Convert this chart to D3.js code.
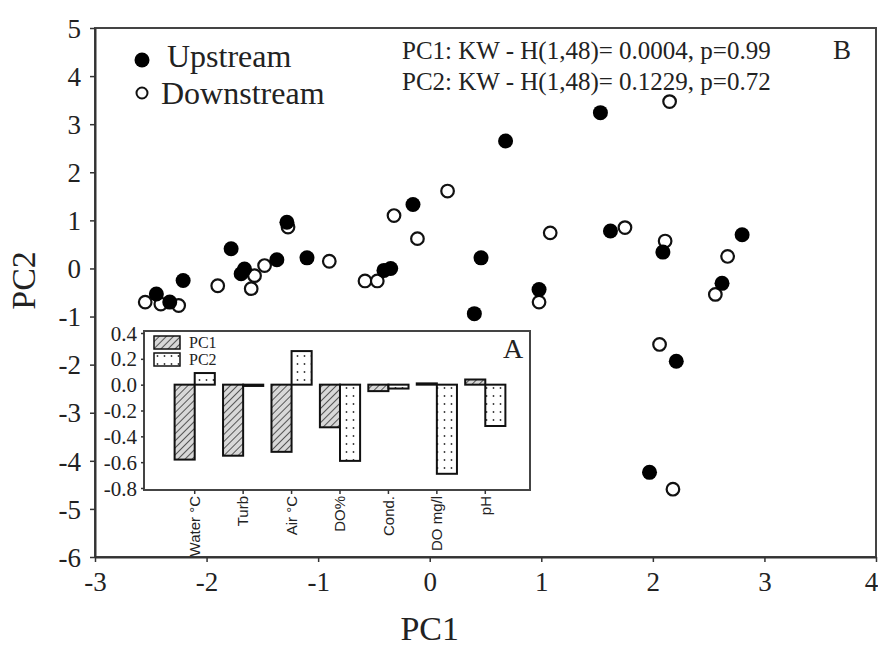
<!DOCTYPE html>
<html>
<head>
<meta charset="utf-8">
<script src="https://cdn.jsdelivr.net/npm/d3@7"></script>
<style>
  body { margin: 0; background: #fff; }
  svg { display: block; }
</style>
</head>
<body>
<div id="chart"></div>
<script>
// Scores
const upstreamPC1 = [-2.45, -2.33, -2.21, -1.78, -1.66, -1.69, -1.37, -1.28, -1.10, -0.41, -0.35, -0.15, 0.40, 0.46, 0.68, 0.98, 1.53, 1.62, 1.97, 2.09, 2.21, 2.62, 2.80];
const upstreamPC2 = [-0.53, -0.70, -0.25, 0.41, -0.01, -0.11, 0.18, 0.96, 0.22, -0.04, 0.00, 1.33, -0.94, 0.22, 2.65, -0.44, 3.24, 0.78, -4.24, 0.34, -1.93, -0.31, 0.70];
const downstreamPC1 = [-2.55, -2.41, -2.25, -1.90, -1.60, -1.57, -1.48, -1.27, -0.90, -0.58, -0.47, -0.32, -0.11, 0.16, 0.98, 1.08, 1.75, 2.06, 2.11, 2.15, 2.18, 2.56, 2.67];
const downstreamPC2 = [-0.70, -0.74, -0.77, -0.36, -0.42, -0.15, 0.06, 0.86, 0.15, -0.26, -0.26, 1.10, 0.62, 1.61, -0.70, 0.74, 0.85, -1.58, 0.57, 3.47, -4.59, -0.54, 0.25];

// Loadings (inset A)
const variables = ["Water °C", "Turb", "Air °C", "DO%", "Cond.", "DO mg/l", "pH"];
const loadingsPC1 = [-0.58, -0.55, -0.52, -0.33, -0.05, 0.01, 0.04];
const loadingsPC2 = [0.09, -0.01, 0.26, -0.59, -0.03, -0.69, -0.32];

const xTicks = [-3, -2, -1, 0, 1, 2, 3, 4];
const yTicks = [5, 4, 3, 2, 1, 0, -1, -2, -3, -4, -5, -6];
const insetTicks = [0.4, 0.2, 0.0, -0.2, -0.4, -0.6, -0.8];
const statLines = ["PC1: KW - H(1,48)= 0.0004, p=0.99", "PC2: KW - H(1,48)= 0.1229, p=0.72"];

const serif = "'Liberation Serif', 'Times New Roman', serif";
const sans = "'Liberation Sans', Arial, sans-serif";
const ink = "#222";

const W = 878, H = 648;
const svg = d3.select("#chart").append("svg")
  .attr("width", W).attr("height", H);

const defs = svg.append("defs");
// hatch for PC1
const hatch = defs.append("pattern")
  .attr("id", "hatch").attr("patternUnits", "userSpaceOnUse")
  .attr("width", 5).attr("height", 5)
  .attr("patternTransform", "rotate(45)");
hatch.append("rect").attr("width", 5).attr("height", 5).attr("fill", "#d8d8d8");
hatch.append("line").attr("x1", 0).attr("y1", 0).attr("x2", 0).attr("y2", 5)
  .attr("stroke", "#333").attr("stroke-width", 1.6);
// dots for PC2
const dots = defs.append("pattern")
  .attr("id", "dots").attr("patternUnits", "userSpaceOnUse")
  .attr("width", 7).attr("height", 8);
dots.append("rect").attr("width", 7).attr("height", 8).attr("fill", "#fff");
dots.append("circle").attr("cx", 3.5).attr("cy", 4).attr("r", 0.9).attr("fill", "#333");

// ---- main scatter (B) ----
const plot = { left: 95, right: 876, top: 28, bottom: 557 };
const x = d3.scaleLinear().domain([-3, 4]).range([plot.left, plot.right]);
const y = d3.scaleLinear().domain([-6, 5]).range([plot.bottom, plot.top]);

svg.append("rect")
  .attr("x", plot.left).attr("y", plot.top)
  .attr("width", plot.right - plot.left).attr("height", plot.bottom - plot.top)
  .attr("fill", "none").attr("stroke", "#444").attr("stroke-width", 2);

const xAxis = svg.append("g")
  .attr("transform", `translate(0,${plot.bottom})`)
  .call(d3.axisBottom(x).tickValues(xTicks).tickFormat(d => String(d))
    .tickSize(5).tickSizeOuter(0).tickPadding(10));
const yAxis = svg.append("g")
  .attr("transform", `translate(${plot.left},0)`)
  .call(d3.axisLeft(y).tickValues(yTicks).tickFormat(d => String(d))
    .tickSize(5).tickSizeOuter(0).tickPadding(9));
[xAxis, yAxis].forEach(g => {
  g.select(".domain").attr("stroke", "#333").attr("stroke-width", 2);
  g.selectAll(".tick line").attr("stroke", "#333").attr("stroke-width", 1.5);
  g.selectAll("text").attr("fill", ink).style("font-family", serif).style("font-size", "27px");
});
yAxis.selectAll("text").attr("dy", "0.34em");
// last x label sits at the window edge
xAxis.selectAll(".tick text").filter(d => d === 4).attr("dx", "-5");

svg.append("text")
  .attr("x", x(0)).attr("y", 640)
  .attr("text-anchor", "middle")
  .style("font-family", serif).style("font-size", "34px").attr("fill", ink)
  .text("PC1");
svg.append("text")
  .attr("transform", `translate(35,${y(-0.25)}) rotate(-90)`)
  .attr("text-anchor", "middle")
  .style("font-family", serif).style("font-size", "34px").attr("fill", ink)
  .text("PC2");

const up = upstreamPC1.map((v, i) => ({ pc1: v, pc2: upstreamPC2[i] }));
const down = downstreamPC1.map((v, i) => ({ pc1: v, pc2: downstreamPC2[i] }));

svg.append("g").selectAll("circle")
  .data(down).enter().append("circle")
  .attr("cx", d => x(d.pc1)).attr("cy", d => y(d.pc2))
  .attr("r", 6.3).attr("fill", "#fff").attr("stroke", "#111").attr("stroke-width", 2.2);
svg.append("g").selectAll("circle")
  .data(up).enter().append("circle")
  .attr("cx", d => x(d.pc1)).attr("cy", d => y(d.pc2))
  .attr("r", 7.5).attr("fill", "#000");

// legend
const legend = svg.append("g");
legend.append("circle").attr("cx", 142).attr("cy", 60).attr("r", 7.5).attr("fill", "#000");
legend.append("circle").attr("cx", 142).attr("cy", 93).attr("r", 5.5).attr("fill", "#fff")
  .attr("stroke", "#111").attr("stroke-width", 2);
legend.append("text").attr("x", 167).attr("y", 67)
  .style("font-family", serif).style("font-size", "32px").attr("fill", ink).text("Upstream");
legend.append("text").attr("x", 161).attr("y", 104)
  .style("font-family", serif).style("font-size", "32px").attr("fill", ink).text("Downstream");

svg.append("g").selectAll("text")
  .data(statLines).enter().append("text")
  .attr("x", 402).attr("y", (d, i) => 59 + i * 31)
  .style("font-family", serif).style("font-size", "25px").attr("fill", ink)
  .text(d => d);
svg.append("text").attr("x", 833).attr("y", 59)
  .style("font-family", serif).style("font-size", "27px").attr("fill", ink).text("B");

// ---- inset loadings (A) ----
const inset = { left: 144, right: 530, top: 331, bottom: 490 };
const ix = d3.scaleBand().domain(variables).range([170.5, 509.5]);
const isub = d3.scaleBand().domain(["PC1", "PC2"])
  .range([ix.step() * 0.085, ix.step() * 0.915]);
const iy = d3.scaleLinear().domain([-0.8, 0.4]).range([488, 333]);

svg.append("rect")
  .attr("x", inset.left).attr("y", inset.top)
  .attr("width", inset.right - inset.left).attr("height", inset.bottom - inset.top)
  .attr("fill", "#fff").attr("stroke", "#444").attr("stroke-width", 2);

const ixAxis = svg.append("g")
  .attr("transform", `translate(0,${inset.bottom})`)
  .call(d3.axisBottom(ix).tickSize(4).tickSizeOuter(0).tickPadding(4));
ixAxis.select(".domain").remove();
ixAxis.selectAll(".tick line").attr("stroke", "#333").attr("stroke-width", 1.5);
ixAxis.selectAll("text")
  .attr("transform", "rotate(-90)")
  .attr("x", -6).attr("y", 0).attr("dy", "0.35em")
  .attr("text-anchor", "end")
  .attr("fill", ink)
  .style("font-family", sans).style("font-size", "15px");

const iyAxis = svg.append("g")
  .attr("transform", `translate(${inset.left},0)`)
  .call(d3.axisLeft(iy).tickValues(insetTicks).tickFormat(d => d.toFixed(1))
    .tickSize(3).tickSizeOuter(0).tickPadding(4));
iyAxis.select(".domain").remove();
iyAxis.selectAll(".tick line").attr("stroke", "#333").attr("stroke-width", 1.5);
iyAxis.selectAll("text").attr("fill", ink).attr("dy", "0.34em")
  .style("font-family", serif).style("font-size", "21px");

const loadRows = variables.map((v, i) => ({ name: v, PC1: loadingsPC1[i], PC2: loadingsPC2[i] }));
const bars = svg.append("g");
["PC1", "PC2"].forEach(pc => {
  bars.append("g").selectAll("rect")
    .data(loadRows).enter().append("rect")
    .attr("x", d => ix(d.name) + isub(pc))
    .attr("width", isub.bandwidth())
    .attr("y", d => iy(Math.max(0, d[pc])))
    .attr("height", d => Math.abs(iy(d[pc]) - iy(0)))
    .attr("fill", pc === "PC1" ? "url(#hatch)" : "url(#dots)")
    .attr("stroke", "#111").attr("stroke-width", 2);
});

// inset legend
const il = svg.append("g");
["PC1", "PC2"].forEach((pc, i) => {
  il.append("rect").attr("x", 154).attr("y", 336 + i * 17)
    .attr("width", 26).attr("height", 13)
    .attr("fill", pc === "PC1" ? "url(#hatch)" : "url(#dots)")
    .attr("stroke", "#111").attr("stroke-width", 1.5);
  il.append("text").attr("x", 189).attr("y", 348 + i * 17)
    .style("font-family", serif).style("font-size", "16px").attr("fill", ink).text(pc);
});
svg.append("text").attr("x", 503).attr("y", 358)
  .style("font-family", serif).style("font-size", "28px").attr("fill", ink).text("A");
</script>
</body>
</html>
